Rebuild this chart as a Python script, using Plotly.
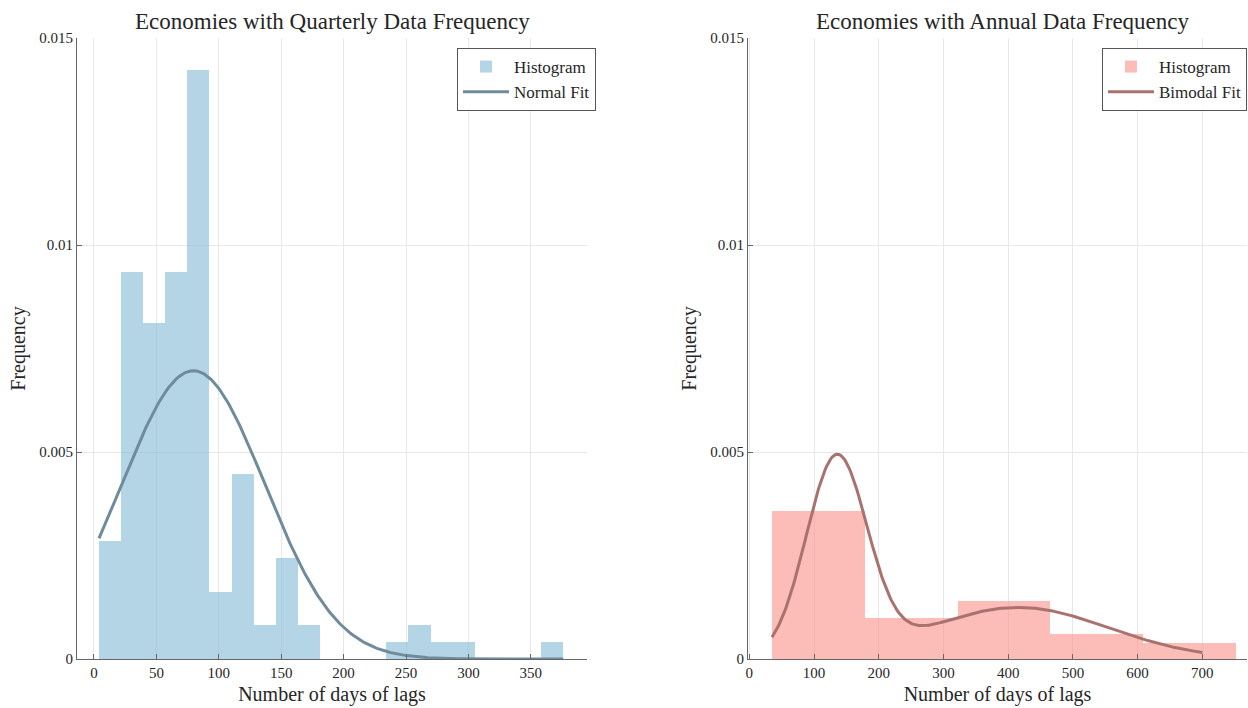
import numpy as np
import plotly.graph_objects as go

# ---- Quarterly economies: histogram of reporting lags (days) ----
quarterly_bin_start = 4.0
quarterly_bin_width = 17.71
quarterly_counts = [7, 23, 20, 23, 35, 4, 11, 2, 6, 2, 0, 0, 0, 1, 2, 1, 1, 0, 0, 0, 1]
quarterly_mu = 79.6
quarterly_sigma = 57.3
quarterly_fit_range = [4.0, 376.0]

# ---- Annual economies: histogram of reporting lags (days) ----
annual_bin_start = 35.0
annual_bin_width = 143.4
annual_counts = [18, 5, 7, 3, 2]
annual_weight_1 = 0.5626
annual_mu_1 = 135.0
annual_sigma_1 = 47.0
annual_mu_2 = 415.0
annual_sigma_2 = 140.0
annual_fit_range = [35.0, 700.0]

# ---- Axis ticks and labels ----
y_tick_vals = [0, 0.005, 0.01, 0.015]
y_tick_text = ["0", "0.005", "0.01", "0.015"]
quarterly_x_ticks = [0, 50, 100, 150, 200, 250, 300, 350]
annual_x_ticks = [0, 100, 200, 300, 400, 500, 600, 700]

titles = ["Economies with Quarterly Data Frequency", "Economies with Annual Data Frequency"]
x_title = "Number of days of lags"
y_title = "Frequency"

FONT = "Liberation Serif, Times New Roman, serif"
W, H = 1248, 708


def density_bars(start, width, counts):
    counts = np.asarray(counts, dtype=float)
    edges = start + width * np.arange(len(counts) + 1)
    centers = 0.5 * (edges[:-1] + edges[1:])
    dens = counts / (counts.sum() * width)
    return centers, dens


def normal_pdf(x, mu, sigma):
    return np.exp(-0.5 * ((x - mu) / sigma) ** 2) / (sigma * np.sqrt(2 * np.pi))


q_centers, q_dens = density_bars(quarterly_bin_start, quarterly_bin_width, quarterly_counts)
a_centers, a_dens = density_bars(annual_bin_start, annual_bin_width, annual_counts)

q_x = np.linspace(quarterly_fit_range[0], quarterly_fit_range[1], 300)
q_y = normal_pdf(q_x, quarterly_mu, quarterly_sigma)

a_x = np.linspace(annual_fit_range[0], annual_fit_range[1], 300)
a_y = (annual_weight_1 * normal_pdf(a_x, annual_mu_1, annual_sigma_1)
       + (1 - annual_weight_1) * normal_pdf(a_x, annual_mu_2, annual_sigma_2))

blue_fill = "rgba(130,185,213,0.6)"
blue_line = "#6f8c9c"
red_fill = "rgba(250,143,135,0.6)"
red_line = "#a9726f"

fig = go.Figure()
fig.add_trace(go.Bar(x=q_centers, y=q_dens, width=quarterly_bin_width, name="Histogram",
                     marker=dict(color=blue_fill, line=dict(width=0)),
                     xaxis="x", yaxis="y", legend="legend"))
fig.add_trace(go.Scatter(x=q_x, y=q_y, mode="lines", name="Normal Fit",
                         line=dict(color=blue_line, width=3),
                         xaxis="x", yaxis="y", legend="legend"))
fig.add_trace(go.Bar(x=a_centers, y=a_dens, width=annual_bin_width, name="Histogram",
                     marker=dict(color=red_fill, line=dict(width=0)),
                     xaxis="x2", yaxis="y2", legend="legend2"))
fig.add_trace(go.Scatter(x=a_x, y=a_y, mode="lines", name="Bimodal Fit",
                         line=dict(color=red_line, width=3),
                         xaxis="x2", yaxis="y2", legend="legend2"))


def px_x(p):
    return p / W


def px_y(p):
    return 1 - p / H


axis_common = dict(
    showline=True, linecolor="#666666", linewidth=1,
    ticks="inside", ticklen=5, tickcolor="#666666", tickwidth=1,
    showgrid=True, gridcolor="#e8e8e8", gridwidth=1,
    zeroline=False, mirror=False, automargin=False,
    tickfont=dict(family=FONT, size=15, color="#262626"),
)

y_dom = [px_y(659), px_y(38)]
title_font = dict(family=FONT, size=20, color="#262626")
legend_style = dict(
    xanchor="right", yanchor="top",
    bgcolor="white", bordercolor="#555555", borderwidth=1,
    font=dict(family=FONT, size=17, color="#262626"),
    itemwidth=46, tracegroupgap=0,
)

fig.update_layout(
    template="none",
    width=W, height=H,
    margin=dict(l=0, r=0, t=0, b=0, autoexpand=False),
    paper_bgcolor="white", plot_bgcolor="white",
    font=dict(family=FONT, color="#262626"),
    barmode="overlay", bargap=0,
    showlegend=True,
    xaxis=dict(axis_common, domain=[px_x(77), px_x(587)], range=[-13.6, 395],
               tickvals=quarterly_x_ticks, anchor="y",
               title=dict(text=x_title, font=title_font, standoff=6)),
    yaxis=dict(axis_common, domain=y_dom, range=[0, 0.015], anchor="x",
               tickvals=y_tick_vals, ticktext=y_tick_text,
               title=dict(text=y_title, font=title_font, standoff=8)),
    xaxis2=dict(axis_common, domain=[px_x(748), px_x(1247)], range=[-2, 769],
                tickvals=annual_x_ticks, anchor="y2",
                title=dict(text=x_title, font=title_font, standoff=6)),
    yaxis2=dict(axis_common, domain=y_dom, range=[0, 0.015], anchor="x2",
                tickvals=y_tick_vals, ticktext=y_tick_text,
                title=dict(text=y_title, font=title_font, standoff=8)),
    legend=dict(legend_style, x=px_x(596), y=px_y(48)),
    legend2=dict(legend_style, x=px_x(1247), y=px_y(48)),
    annotations=[
        dict(text=titles[0], x=px_x(332), y=px_y(21), xref="paper", yref="paper",
             xanchor="center", yanchor="middle", showarrow=False,
             font=dict(family=FONT, size=23, color="#262626")),
        dict(text=titles[1], x=px_x(1003), y=px_y(21), xref="paper", yref="paper",
             xanchor="center", yanchor="middle", showarrow=False,
             font=dict(family=FONT, size=23, color="#262626")),
    ],
)

fig.write_html("out.html")
